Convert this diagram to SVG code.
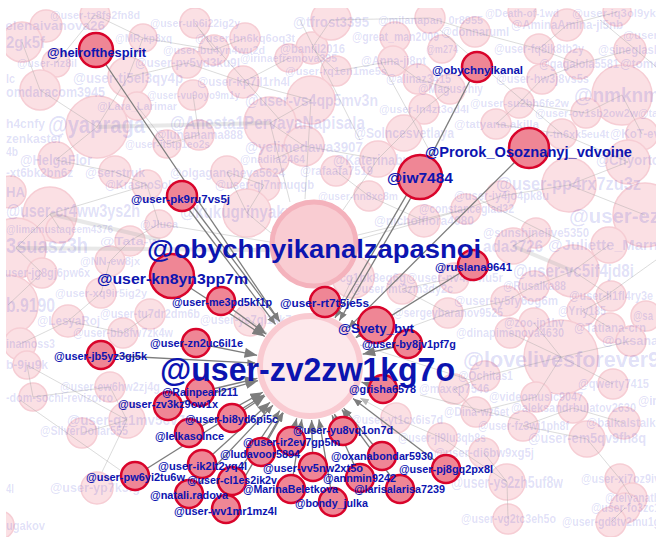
<svg xmlns="http://www.w3.org/2000/svg" width="656" height="537" viewBox="0 0 656 537">
<defs>
<style>
.fe{stroke:#a0a0a0;stroke-opacity:.38;fill:none;stroke-width:1}
.fet{stroke:#b4b4b4;stroke-opacity:.3;fill:none}
.fn{fill:#fbe0e4;stroke:#f6cdd4;stroke-width:1.5}
.fl{font-family:"Liberation Sans",Arial,sans-serif;font-weight:bold;fill:#1a1acc;fill-opacity:.14}
.me{stroke:#7d7d7d;fill:none;stroke-width:1.3}
.rn{fill:#ef8695;stroke:#d9042b;stroke-width:2.5}
.ml{font-family:"Liberation Sans",Arial,sans-serif;font-weight:bold;fill:#0c14b0;text-anchor:middle}
</style>
<clipPath id="clip"><rect x="6" y="8" width="650" height="529"/></clipPath>
<marker id="ah" viewBox="0 0 10 8" refX="10" refY="4" markerWidth="9" markerHeight="7" markerUnits="userSpaceOnUse" orient="auto"><path d="M0,0L10,4L0,8z" fill="#7d7d7d"/></marker>
<marker id="ahb" viewBox="0 0 10 8" refX="10" refY="4" markerWidth="13" markerHeight="10" markerUnits="userSpaceOnUse" orient="auto"><path d="M0,0L10,4L0,8z" fill="#7d7d7d"/></marker>
<marker id="ahf" viewBox="0 0 10 8" refX="10" refY="4" markerWidth="9" markerHeight="7" markerUnits="userSpaceOnUse" orient="auto"><path d="M0,0L10,4L0,8z" fill="#b5b5b5"/></marker>
</defs>
<rect width="656" height="537" fill="#ffffff"/>
<g clip-path="url(#clip)">
<g id="background-nodes">
<circle class="fn" cx="95" cy="15" r="15"/><circle class="fn" cx="46" cy="26" r="16"/><circle class="fn" cx="22" cy="42" r="20"/>
<circle class="fn" cx="143" cy="38" r="14"/><circle class="fn" cx="195" cy="23" r="15"/><circle class="fn" cx="245" cy="38" r="15"/>
<circle class="fn" cx="214" cy="50" r="15"/><circle class="fn" cx="312" cy="48" r="16"/><circle class="fn" cx="56" cy="63" r="14"/>
<circle class="fn" cx="187" cy="63" r="15"/><circle class="fn" cx="289" cy="58" r="14"/><circle class="fn" cx="128" cy="77" r="20"/>
<circle class="fn" cx="243" cy="82" r="16"/><circle class="fn" cx="336" cy="71" r="15"/><circle class="fn" cx="40" cy="90" r="20"/>
<circle class="fn" cx="193" cy="95" r="15"/><circle class="fn" cx="311" cy="100" r="24"/><circle class="fn" cx="137" cy="106" r="14"/>
<circle class="fn" cx="97" cy="127" r="31"/><circle class="fn" cx="270" cy="123" r="26"/><circle class="fn" cx="199" cy="135" r="15"/>
<circle class="fn" cx="167" cy="144" r="14"/><circle class="fn" cx="304" cy="146" r="20"/><circle class="fn" cx="56" cy="160" r="18"/>
<circle class="fn" cx="274" cy="159" r="15"/><circle class="fn" cx="115" cy="172" r="16"/><circle class="fn" cx="227" cy="172" r="16"/>
<circle class="fn" cx="336" cy="171" r="15"/><circle class="fn" cx="378" cy="159" r="18"/><circle class="fn" cx="331" cy="20" r="20"/>
<circle class="fn" cx="430" cy="18" r="15"/><circle class="fn" cx="522" cy="12" r="14"/><circle class="fn" cx="617" cy="12" r="14"/>
<circle class="fn" cx="567" cy="25" r="16"/><circle class="fn" cx="395" cy="37" r="15"/><circle class="fn" cx="475" cy="32" r="15"/>
<circle class="fn" cx="442" cy="49" r="14"/><circle class="fn" cx="539" cy="49" r="15"/><circle class="fn" cx="630" cy="50" r="16"/>
<circle class="fn" cx="393" cy="61" r="15"/><circle class="fn" cx="579" cy="64" r="15"/><circle class="fn" cx="418" cy="79" r="15"/>
<circle class="fn" cx="542" cy="79" r="15"/><circle class="fn" cx="450" cy="89" r="15"/><circle class="fn" cx="622" cy="95" r="30"/>
<circle class="fn" cx="519" cy="103" r="15"/><circle class="fn" cx="424" cy="109" r="15"/><circle class="fn" cx="586" cy="113" r="15"/>
<circle class="fn" cx="496" cy="124" r="15"/><circle class="fn" cx="404" cy="133" r="18"/><circle class="fn" cx="562" cy="134" r="15"/>
<circle class="fn" cx="642" cy="134" r="16"/><circle class="fn" cx="628" cy="162" r="22"/><circle class="fn" cx="10" cy="192" r="16"/>
<circle class="fn" cx="147" cy="185" r="15"/><circle class="fn" cx="264" cy="185" r="16"/><circle class="fn" cx="50" cy="214" r="27"/>
<circle class="fn" cx="247" cy="213" r="24"/><circle class="fn" cx="60" cy="229" r="14"/><circle class="fn" cx="159" cy="224" r="14"/>
<circle class="fn" cx="16" cy="248" r="30"/><circle class="fn" cx="130" cy="241" r="15"/><circle class="fn" cx="110" cy="261" r="15"/>
<circle class="fn" cx="42" cy="273" r="15"/><circle class="fn" cx="101" cy="293" r="15"/><circle class="fn" cx="8" cy="305" r="30"/>
<circle class="fn" cx="150" cy="314" r="15"/><circle class="fn" cx="68" cy="321" r="16"/><circle class="fn" cx="250" cy="320" r="16"/>
<circle class="fn" cx="123" cy="333" r="15"/><circle class="fn" cx="20" cy="344" r="16"/><circle class="fn" cx="569" cy="185" r="27"/>
<circle class="fn" cx="369" cy="196" r="15"/><circle class="fn" cx="501" cy="196" r="15"/><circle class="fn" cx="466" cy="209" r="15"/>
<circle class="fn" cx="424" cy="221" r="16"/><circle class="fn" cx="645" cy="215" r="32"/><circle class="fn" cx="536" cy="233" r="15"/>
<circle class="fn" cx="513" cy="246" r="18"/><circle class="fn" cx="609" cy="245" r="18"/><circle class="fn" cx="353" cy="277" r="21"/>
<circle class="fn" cx="454" cy="278" r="15"/><circle class="fn" cx="573" cy="271" r="26"/><circle class="fn" cx="402" cy="289" r="15"/>
<circle class="fn" cx="534" cy="286" r="15"/><circle class="fn" cx="506" cy="301" r="15"/><circle class="fn" cx="611" cy="296" r="15"/>
<circle class="fn" cx="448" cy="313" r="15"/><circle class="fn" cx="582" cy="311" r="15"/><circle class="fn" cx="534" cy="323" r="15"/>
<circle class="fn" cx="646" cy="316" r="15"/><circle class="fn" cx="510" cy="333" r="15"/><circle class="fn" cx="610" cy="328" r="15"/>
<circle class="fn" cx="631" cy="341" r="15"/><circle class="fn" cx="561" cy="357" r="37"/><circle class="fn" cx="27" cy="365" r="14"/>
<circle class="fn" cx="110" cy="387" r="15"/><circle class="fn" cx="33" cy="397" r="14"/><circle class="fn" cx="127" cy="420" r="18"/>
<circle class="fn" cx="82" cy="433" r="15"/><circle class="fn" cx="97" cy="488" r="16"/><circle class="fn" cx="0" cy="525" r="14"/>
<circle class="fn" cx="485" cy="376" r="15"/><circle class="fn" cx="454" cy="389" r="15"/><circle class="fn" cx="613" cy="384" r="15"/>
<circle class="fn" cx="536" cy="397" r="15"/><circle class="fn" cx="476" cy="412" r="15"/><circle class="fn" cx="573" cy="408" r="15"/>
<circle class="fn" cx="396" cy="418" r="15"/><circle class="fn" cx="624" cy="423" r="16"/><circle class="fn" cx="523" cy="426" r="15"/>
<circle class="fn" cx="442" cy="438" r="15"/><circle class="fn" cx="587" cy="439" r="18"/><circle class="fn" cx="484" cy="453" r="15"/>
<circle class="fn" cx="507" cy="482" r="18"/><circle class="fn" cx="620" cy="479" r="15"/><circle class="fn" cx="632" cy="498" r="15"/>
<circle class="fn" cx="625" cy="508" r="15"/><circle class="fn" cx="508" cy="519" r="15"/><circle class="fn" cx="611" cy="522" r="15"/>
</g>
<g id="background-connectors">
<path class="fet" stroke-width="4" d="M16,248L270,250M50,214L160,240M513,246L573,271M97,127L270,123"/>
<path class="fe" d="M95,15L143,38M143,38L128,77M128,77L97,127M97,127L56,160M97,127L40,90M40,90L22,42M128,77L187,63M187,63L243,82M243,82L311,100M311,100L270,123M270,123L304,146M304,146L378,159M378,159L404,133M404,133L424,109M424,109L450,89M450,89L418,79M418,79L393,61M393,61L336,71M336,71L312,48M312,48L331,20M331,20L430,18M430,18L475,32M475,32L539,49M539,49L567,25M567,25L617,12M539,49L579,64M579,64L630,50M579,64L542,79M542,79L519,103M519,103L586,113M586,113L622,95M622,95L642,134M562,134L628,162M562,134L496,124M496,124L519,103M569,185L628,162M569,185L645,215M569,185L501,196M501,196L466,209M466,209L424,221M536,233L513,246M573,271L609,245M573,271L611,296M611,296L582,311M582,311L610,328M534,323L561,357M510,333L561,357M561,357L631,341M561,357L613,384M561,357L536,397M536,397L476,412M476,412L454,389M454,389L485,376M485,376L561,357M573,408L624,423M573,408L523,426M587,439L523,426M587,439L620,479M507,482L484,453M507,482L508,519M507,482L442,438M442,438L396,418M620,479L632,498M611,522L625,508M56,160L115,172M115,172L147,185M147,185L159,224M159,224L130,241M130,241L110,261M110,261L101,293M101,293L68,321M68,321L20,344M50,214L16,248M50,214L147,185M50,214L60,229M16,248L42,273M42,273L8,305M150,314L123,333M123,333L68,321M110,387L33,397M127,420L110,387M127,420L82,433M127,420L27,365M33,397L27,365M227,172L247,213M247,213L264,185M264,185L227,172M199,135L167,144M167,144L137,106M199,135L193,95M274,159L304,146M336,171L369,196M369,196L424,221M454,278L402,289M402,289L448,313M448,313L506,301M506,301L534,286M534,286L573,271M289,58L243,82M214,50L245,38M195,23L214,50M56,63L95,15M143,38L214,50M440,30L562,134M380,60L440,170M480,200L560,240M600,20L660,70M470,380L360,345M520,420L420,395M600,300L656,260M20,400L120,470M300,20L360,140M200,30L280,120"/>
<path class="fe" marker-end="url(#ahf)" d="M127,420L102,472M311,100L305,199M270,123L290,202M378,159L343,210M424,221L356,240M247,213L271,233M159,224L270,242M466,209L358,235M250,320L267.1,333.1M353,277L333.7,317.5M448,313L362,345M396,418L360,398"/>
</g>
<g id="background-labels">
<text class="fl" x="50" y="19" font-size="11" textLength="90" lengthAdjust="spacingAndGlyphs">@user-tz8fs2fn8d</text>
<text class="fl" x="-8" y="30" font-size="13" textLength="113" lengthAdjust="spacingAndGlyphs">@elenaivanova26</text>
<text class="fl" x="6" y="48" font-size="17" textLength="39" lengthAdjust="spacingAndGlyphs">2gk5f</text>
<text class="fl" x="115" y="42" font-size="11" textLength="57" lengthAdjust="spacingAndGlyphs">@MR-kp8xq</text>
<text class="fl" x="150" y="27" font-size="11" textLength="90" lengthAdjust="spacingAndGlyphs">@user-ub6i22ig2y</text>
<text class="fl" x="195" y="42" font-size="11" textLength="100" lengthAdjust="spacingAndGlyphs">@user-hn6kq6oq3t</text>
<text class="fl" x="163" y="54" font-size="11" textLength="102" lengthAdjust="spacingAndGlyphs">@user-bu4yn4wu2d</text>
<text class="fl" x="280" y="53" font-size="12" textLength="65" lengthAdjust="spacingAndGlyphs">@baniil2016</text>
<text class="fl" x="17" y="67" font-size="11" textLength="60" lengthAdjust="spacingAndGlyphs">@user-nz8il</text>
<text class="fl" x="135" y="67" font-size="12" textLength="105" lengthAdjust="spacingAndGlyphs">@user-pv5vd3ku9l</text>
<text class="fl" x="240" y="62" font-size="11" textLength="97" lengthAdjust="spacingAndGlyphs">@irinaefremova395</text>
<text class="fl" x="73" y="83" font-size="15" textLength="110" lengthAdjust="spacingAndGlyphs">@user-tj5el3qy4p</text>
<text class="fl" x="197" y="86" font-size="12" textLength="93" lengthAdjust="spacingAndGlyphs">@user-kp7il1rh4l</text>
<text class="fl" x="285" y="75" font-size="11" textLength="102" lengthAdjust="spacingAndGlyphs">@user-rq1en1me5s</text>
<text class="fl" x="6" y="83" font-size="12" textLength="9" lengthAdjust="spacingAndGlyphs">lc</text>
<text class="fl" x="6" y="97" font-size="14" textLength="99" lengthAdjust="spacingAndGlyphs">omdaracom3945</text>
<text class="fl" x="147" y="99" font-size="11" textLength="93" lengthAdjust="spacingAndGlyphs">@user-vu9oyo9m1y</text>
<text class="fl" x="245" y="106" font-size="17" textLength="133" lengthAdjust="spacingAndGlyphs">@user-vs4qp5mv3n</text>
<text class="fl" x="97" y="110" font-size="11" textLength="80" lengthAdjust="spacingAndGlyphs">@Lara_Larimar</text>
<text class="fl" x="48" y="133" font-size="23" textLength="97" lengthAdjust="spacingAndGlyphs">@yapraga</text>
<text class="fl" x="6" y="128" font-size="13" textLength="39" lengthAdjust="spacingAndGlyphs">h4cnfy</text>
<text class="fl" x="170" y="129" font-size="19" textLength="195" lengthAdjust="spacingAndGlyphs">@Anesta1PervayaNapisala</text>
<text class="fl" x="6" y="143" font-size="12" textLength="56" lengthAdjust="spacingAndGlyphs">zenkaster</text>
<text class="fl" x="155" y="139" font-size="12" textLength="88" lengthAdjust="spacingAndGlyphs">@lunamama888</text>
<text class="fl" x="125" y="148" font-size="11" textLength="85" lengthAdjust="spacingAndGlyphs">@user-it5tp1eo2s</text>
<text class="fl" x="245" y="152" font-size="15" textLength="118" lengthAdjust="spacingAndGlyphs">@yelimedawa3907</text>
<text class="fl" x="6" y="156" font-size="12" textLength="12" lengthAdjust="spacingAndGlyphs">4b</text>
<text class="fl" x="20" y="165" font-size="14" textLength="72" lengthAdjust="spacingAndGlyphs">@HelgaFlor</text>
<text class="fl" x="240" y="163" font-size="11" textLength="65" lengthAdjust="spacingAndGlyphs">@nadila2464</text>
<text class="fl" x="6" y="177" font-size="12" textLength="67" lengthAdjust="spacingAndGlyphs">-xt6bk2bn6z</text>
<text class="fl" x="85" y="177" font-size="13" textLength="60" lengthAdjust="spacingAndGlyphs">@serstruk</text>
<text class="fl" x="170" y="177" font-size="12" textLength="115" lengthAdjust="spacingAndGlyphs">@olgagancheva5624</text>
<text class="fl" x="300" y="175" font-size="12" textLength="73" lengthAdjust="spacingAndGlyphs">@rafaafa7519</text>
<text class="fl" x="333" y="165" font-size="14" textLength="91" lengthAdjust="spacingAndGlyphs">@Katerinabu46</text>
<text class="fl" x="293" y="27" font-size="15" textLength="76" lengthAdjust="spacingAndGlyphs">@tfrost3395</text>
<text class="fl" x="378" y="24" font-size="11" textLength="105" lengthAdjust="spacingAndGlyphs">@milanapan_0r8955</text>
<text class="fl" x="485" y="17" font-size="11" textLength="74" lengthAdjust="spacingAndGlyphs">@Death-of-1wd</text>
<text class="fl" x="572" y="17" font-size="11" textLength="90" lengthAdjust="spacingAndGlyphs">@user-iq3ol9yk1</text>
<text class="fl" x="511" y="29" font-size="12" textLength="112" lengthAdjust="spacingAndGlyphs">@AminaAmina-ji5nb</text>
<text class="fl" x="352" y="41" font-size="12" textLength="87" lengthAdjust="spacingAndGlyphs">@great_man2009</text>
<text class="fl" x="441" y="36" font-size="12" textLength="68" lengthAdjust="spacingAndGlyphs">@donnaruml</text>
<text class="fl" x="623" y="39" font-size="11" textLength="35" lengthAdjust="spacingAndGlyphs">@user</text>
<text class="fl" x="426" y="53" font-size="11" textLength="32" lengthAdjust="spacingAndGlyphs">@m274</text>
<text class="fl" x="494" y="53" font-size="12" textLength="90" lengthAdjust="spacingAndGlyphs">@user-fq8ik8tb2y</text>
<text class="fl" x="598" y="54" font-size="12" textLength="62" lengthAdjust="spacingAndGlyphs">@sineglask</text>
<text class="fl" x="361" y="65" font-size="12" textLength="65" lengthAdjust="spacingAndGlyphs">@Anna-ji8pt</text>
<text class="fl" x="539" y="68" font-size="12" textLength="80" lengthAdjust="spacingAndGlyphs">@gagalola5581</text>
<text class="fl" x="620" y="68" font-size="12" textLength="40" lengthAdjust="spacingAndGlyphs">@tome</text>
<text class="fl" x="386" y="83" font-size="12" textLength="65" lengthAdjust="spacingAndGlyphs">@alinaz3415</text>
<text class="fl" x="496" y="83" font-size="12" textLength="93" lengthAdjust="spacingAndGlyphs">@user-hw3j8vs5s</text>
<text class="fl" x="418" y="93" font-size="12" textLength="65" lengthAdjust="spacingAndGlyphs">@Maguschiy</text>
<text class="fl" x="574" y="102" font-size="20" textLength="86" lengthAdjust="spacingAndGlyphs">@nmknm</text>
<text class="fl" x="470" y="107" font-size="11" textLength="99" lengthAdjust="spacingAndGlyphs">@user-su2bh6fe2w</text>
<text class="fl" x="379" y="113" font-size="11" textLength="90" lengthAdjust="spacingAndGlyphs">@user-ln4zt3od4l</text>
<text class="fl" x="535" y="117" font-size="11" textLength="103" lengthAdjust="spacingAndGlyphs">@user-ov1sb2ow2w</text>
<text class="fl" x="638" y="117" font-size="11" textLength="20" lengthAdjust="spacingAndGlyphs">@ta</text>
<text class="fl" x="454" y="128" font-size="11" textLength="85" lengthAdjust="spacingAndGlyphs">@tatyana.akilla</text>
<text class="fl" x="354" y="138" font-size="14" textLength="100" lengthAdjust="spacingAndGlyphs">@Solncesvetlaya</text>
<text class="fl" x="516" y="138" font-size="11" textLength="93" lengthAdjust="spacingAndGlyphs">@user-tn6xk5eu4t</text>
<text class="fl" x="610" y="138" font-size="12" textLength="50" lengthAdjust="spacingAndGlyphs">@KoT-ev</text>
<text class="fl" x="596" y="165" font-size="14" textLength="64" lengthAdjust="spacingAndGlyphs">@Chyorto</text>
<text class="fl" x="6" y="197" font-size="14" textLength="19" lengthAdjust="spacingAndGlyphs">HA</text>
<text class="fl" x="105" y="189" font-size="12" textLength="85" lengthAdjust="spacingAndGlyphs">@KrasnoSolnce</text>
<text class="fl" x="215" y="189" font-size="12" textLength="99" lengthAdjust="spacingAndGlyphs">@user-ql7nmuqgb</text>
<text class="fl" x="6" y="217" font-size="18" textLength="134" lengthAdjust="spacingAndGlyphs">@user-cr4ww3ys2h</text>
<text class="fl" x="180" y="218" font-size="18" textLength="132" lengthAdjust="spacingAndGlyphs">@kukugrinyakuku</text>
<text class="fl" x="6" y="233" font-size="11" textLength="107" lengthAdjust="spacingAndGlyphs">@limamustaqeem4376</text>
<text class="fl" x="140" y="228" font-size="11" textLength="38" lengthAdjust="spacingAndGlyphs">@Jluca</text>
<text class="fl" x="6" y="253" font-size="22" textLength="82" lengthAdjust="spacingAndGlyphs">3suasz3h</text>
<text class="fl" x="100" y="245" font-size="11" textLength="60" lengthAdjust="spacingAndGlyphs">@Tata-w</text>
<text class="fl" x="80" y="265" font-size="11" textLength="60" lengthAdjust="spacingAndGlyphs">@NN-ew8jx</text>
<text class="fl" x="-6" y="277" font-size="12" textLength="96" lengthAdjust="spacingAndGlyphs">@user-jg8gj6pw6x</text>
<text class="fl" x="55" y="297" font-size="11" textLength="92" lengthAdjust="spacingAndGlyphs">@user-xq9ir5ig2y</text>
<text class="fl" x="6" y="312" font-size="20" textLength="49" lengthAdjust="spacingAndGlyphs">b.9190</text>
<text class="fl" x="100" y="318" font-size="12" textLength="100" lengthAdjust="spacingAndGlyphs">@user-tu7dr2dm6b</text>
<text class="fl" x="37" y="325" font-size="12" textLength="63" lengthAdjust="spacingAndGlyphs">@LesyaRoj</text>
<text class="fl" x="200" y="324" font-size="12" textLength="100" lengthAdjust="spacingAndGlyphs">@user-ye7gl1kk7w</text>
<text class="fl" x="73" y="337" font-size="12" textLength="100" lengthAdjust="spacingAndGlyphs">@user-bb8fw7zk4w</text>
<text class="fl" x="6" y="348" font-size="12" textLength="49" lengthAdjust="spacingAndGlyphs">inamoss3</text>
<text class="fl" x="496" y="190" font-size="18" textLength="145" lengthAdjust="spacingAndGlyphs">@user-pp4rx7zu3z</text>
<text class="fl" x="318" y="200" font-size="11" textLength="80" lengthAdjust="spacingAndGlyphs">@user-nn8xc8m</text>
<text class="fl" x="454" y="200" font-size="12" textLength="95" lengthAdjust="spacingAndGlyphs">@user-iy4jo4pk8u</text>
<text class="fl" x="419" y="213" font-size="12" textLength="95" lengthAdjust="spacingAndGlyphs">@constanceglad32</text>
<text class="fl" x="374" y="225" font-size="12" textLength="100" lengthAdjust="spacingAndGlyphs">@nicholflora4080</text>
<text class="fl" x="569" y="223" font-size="20" textLength="91" lengthAdjust="spacingAndGlyphs">@user-ez</text>
<text class="fl" x="483" y="237" font-size="12" textLength="106" lengthAdjust="spacingAndGlyphs">@sunshinelive5350</text>
<text class="fl" x="483" y="252" font-size="16" textLength="60" lengthAdjust="spacingAndGlyphs">ada3726</text>
<text class="fl" x="548" y="250" font-size="14" textLength="122" lengthAdjust="spacingAndGlyphs">@Juliette_Marnel</text>
<text class="fl" x="300" y="282" font-size="12" textLength="106" lengthAdjust="spacingAndGlyphs">@user-cg1bk8eg6g</text>
<text class="fl" x="406" y="282" font-size="12" textLength="97" lengthAdjust="spacingAndGlyphs">@user-nv4ik4iu5r</text>
<text class="fl" x="513" y="277" font-size="18" textLength="121" lengthAdjust="spacingAndGlyphs">@user-vc5if4jd8i</text>
<text class="fl" x="351" y="293" font-size="12" textLength="102" lengthAdjust="spacingAndGlyphs">@user-mt3zm3dy2c</text>
<text class="fl" x="503" y="290" font-size="12" textLength="63" lengthAdjust="spacingAndGlyphs">@Rusalka88</text>
<text class="fl" x="454" y="305" font-size="12" textLength="104" lengthAdjust="spacingAndGlyphs">@user-ty5fy6og6m</text>
<text class="fl" x="569" y="300" font-size="12" textLength="84" lengthAdjust="spacingAndGlyphs">@user-li1fl4ry3e</text>
<text class="fl" x="393" y="317" font-size="12" textLength="110" lengthAdjust="spacingAndGlyphs">@sergeybaranov9525</text>
<text class="fl" x="558" y="315" font-size="12" textLength="48" lengthAdjust="spacingAndGlyphs">@Yriy185</text>
<text class="fl" x="504" y="327" font-size="12" textLength="60" lengthAdjust="spacingAndGlyphs">@zoo-jp1hv</text>
<text class="fl" x="633" y="320" font-size="12" textLength="20" lengthAdjust="spacingAndGlyphs">@sa</text>
<text class="fl" x="456" y="337" font-size="12" textLength="108" lengthAdjust="spacingAndGlyphs">@dinapimenova4630</text>
<text class="fl" x="574" y="332" font-size="12" textLength="72" lengthAdjust="spacingAndGlyphs">@Tatiana-crn</text>
<text class="fl" x="602" y="345" font-size="12" textLength="56" lengthAdjust="spacingAndGlyphs">@oksana</text>
<text class="fl" x="463" y="367" font-size="22" textLength="209" lengthAdjust="spacingAndGlyphs">@lovelivesforever99</text>
<text class="fl" x="6" y="369" font-size="12" textLength="42" lengthAdjust="spacingAndGlyphs">b-9ju9k</text>
<text class="fl" x="60" y="391" font-size="12" textLength="100" lengthAdjust="spacingAndGlyphs">@user-ew6hw2zj4g</text>
<text class="fl" x="6" y="402" font-size="12" textLength="107" lengthAdjust="spacingAndGlyphs">-dom-sochi-revizorro</text>
<text class="fl" x="67" y="425" font-size="15" textLength="118" lengthAdjust="spacingAndGlyphs">@user-qz1mv5cv7</text>
<text class="fl" x="40" y="435" font-size="12" textLength="88" lengthAdjust="spacingAndGlyphs">@SilverDollar555</text>
<text class="fl" x="6" y="493" font-size="12" textLength="8" lengthAdjust="spacingAndGlyphs">4l</text>
<text class="fl" x="50" y="492" font-size="13" textLength="90" lengthAdjust="spacingAndGlyphs">@user-yp7k3ig</text>
<text class="fl" x="6" y="530" font-size="12" textLength="39" lengthAdjust="spacingAndGlyphs">ugakov</text>
<text class="fl" x="458" y="380" font-size="12" textLength="55" lengthAdjust="spacingAndGlyphs">@Ochitas1</text>
<text class="fl" x="419" y="393" font-size="12" textLength="70" lengthAdjust="spacingAndGlyphs">@maxep7546</text>
<text class="fl" x="578" y="388" font-size="12" textLength="71" lengthAdjust="spacingAndGlyphs">@qwerty7415</text>
<text class="fl" x="489" y="401" font-size="12" textLength="94" lengthAdjust="spacingAndGlyphs">@videomusic9047</text>
<text class="fl" x="638" y="405" font-size="12" textLength="22" lengthAdjust="spacingAndGlyphs">@iri</text>
<text class="fl" x="444" y="416" font-size="12" textLength="65" lengthAdjust="spacingAndGlyphs">@Dina-wz6et</text>
<text class="fl" x="511" y="412" font-size="12" textLength="125" lengthAdjust="spacingAndGlyphs">@aleksandrbulatov2630</text>
<text class="fl" x="351" y="424" font-size="12" textLength="92" lengthAdjust="spacingAndGlyphs">@user-yt1cx6is7d</text>
<text class="fl" x="586" y="427" font-size="13" textLength="76" lengthAdjust="spacingAndGlyphs">@baikalstalke</text>
<text class="fl" x="478" y="430" font-size="12" textLength="91" lengthAdjust="spacingAndGlyphs">@user-fz3wj1ph8f</text>
<text class="fl" x="398" y="442" font-size="12" textLength="88" lengthAdjust="spacingAndGlyphs">@user-jl9lu3qb8s</text>
<text class="fl" x="528" y="443" font-size="14" textLength="118" lengthAdjust="spacingAndGlyphs">@user-em5qv9fh8q</text>
<text class="fl" x="434" y="457" font-size="12" textLength="100" lengthAdjust="spacingAndGlyphs">@user-di6bw9xg5j</text>
<text class="fl" x="451" y="488" font-size="16" textLength="112" lengthAdjust="spacingAndGlyphs">@user-ys2zh5uf8w</text>
<text class="fl" x="581" y="483" font-size="12" textLength="79" lengthAdjust="spacingAndGlyphs">@user-xi7oz9iv</text>
<text class="fl" x="605" y="502" font-size="12" textLength="55" lengthAdjust="spacingAndGlyphs">@telyanath</text>
<text class="fl" x="591" y="512" font-size="12" textLength="69" lengthAdjust="spacingAndGlyphs">@user-fo3zc1</text>
<text class="fl" x="461" y="523" font-size="12" textLength="95" lengthAdjust="spacingAndGlyphs">@user-vg2tc3eh5o</text>
<text class="fl" x="562" y="526" font-size="12" textLength="98" lengthAdjust="spacingAndGlyphs">@user-gd8tv2mu1g</text>
</g>
</g>
<g id="connectors">
<path class="me" marker-end="url(#ah)" d="M96,50L279.7,321.3"/>
<path class="me" marker-end="url(#ah)" d="M184,194.5L279.5,321.4"/>
<path class="me" marker-end="url(#ah)" d="M180,197.5L275.5,324.4"/>
<path class="me" marker-end="url(#ahb)" stroke-width="3" d="M172,276L264.8,336.5"/>
<path class="me" marker-end="url(#ahb)" stroke-width="2" d="M221,301L266.4,334.2"/>
<path class="me" marker-end="url(#ahb)" stroke-width="2.5" d="M196,343L257.1,355.3"/>
<path class="me" marker-end="url(#ah)" d="M101,355L256.1,363.2"/>
<path class="me" marker-end="url(#ah)" d="M325,302L322.3,313.4"/>
<path class="me" marker-end="url(#ah)" d="M422.2,178.3L339.4,320.6"/>
<path class="me" marker-end="url(#ah)" d="M417.8,175.7L335,318"/>
<path class="me" d="M477,67L430.6,156.6"/>
<path class="me" marker-end="url(#ah)" d="M529,148L348.3,327.9"/>
<path class="me" marker-end="url(#ah)" d="M473,265L355.9,337.6"/>
<path class="me" marker-end="url(#ahb)" stroke-width="2" d="M376,325L355.9,337.5"/>
<path class="me" marker-end="url(#ahb)" stroke-width="2" d="M408,344L362.7,354.2"/>
<path class="me" marker-end="url(#ahb)" stroke-width="2" d="M383,389L361.5,382.2"/>
<path class="me" marker-end="url(#ah)" d="M446,469L353,398.6"/>
<path class="me" marker-end="url(#ah)" d="M400,489L341.9,409.6"/>
<path class="me" marker-end="url(#ah)" d="M382,456L343.7,408.2"/>
<path class="me" marker-end="url(#ah)" d="M360,478L332,415.3"/>
<path class="me" marker-end="url(#ah)" d="M333,502L319,419.3"/>
<path class="me" marker-end="url(#ah)" stroke-width="1.6" d="M343,431L334.4,414.1"/>
<path class="me" marker-end="url(#ahb)" stroke-width="2" d="M313,467L311.6,420"/>
<path class="me" marker-end="url(#ah)" d="M291,489L301.8,419.4"/>
<path class="me" marker-end="url(#ah)" stroke-width="1.6" d="M291,441L296.7,418.3"/>
<path class="me" marker-end="url(#ah)" stroke-width="1.6" d="M261,452L283.3,412.9"/>
<path class="me" marker-end="url(#ah)" d="M232,481L279.7,410.7"/>
<path class="me" marker-end="url(#ah)" d="M226,509L282.6,412.6"/>
<path class="me" marker-end="url(#ah)" d="M189,494L272.9,405.2"/>
<path class="me" marker-end="url(#ahb)" stroke-width="2" d="M202,464L270,402.3"/>
<path class="me" marker-end="url(#ah)" d="M135,476L264.3,394.7"/>
<path class="me" marker-end="url(#ahb)" stroke-width="2" d="M189,433L262.8,392.2"/>
<path class="me" marker-end="url(#ahb)" stroke-width="2.5" d="M232,418L265,396"/>
<path class="me" marker-end="url(#ahb)" stroke-width="2" d="M168,406L258,380.6"/>
<path class="me" marker-end="url(#ahb)" stroke-width="2" d="M200,392L257.4,378.4"/>
</g>
<g id="node-obychnyikanalzapasnoi"><circle cx="314" cy="244" r="42" fill="#f9ccd2" stroke="#f4b2bc" stroke-width="5"/></g>
<g id="node-user-zv2zw1kg7o"><circle cx="310" cy="366" r="50" fill="#fde8eb" stroke="#f9cad1" stroke-width="6"/></g>
<g id="node-heirofthespirit"><circle class="rn" cx="96" cy="50" r="17"/></g>
<g id="node-obychnyikanal"><circle class="rn" cx="477" cy="67" r="15"/></g>
<g id="node-Prorok_Osoznanyj_vdvoine"><circle class="rn" cx="529" cy="148" r="20"/></g>
<g id="node-iw7484"><circle class="rn" cx="420" cy="177" r="22"/></g>
<g id="node-user-pk9ru7vs5j"><circle class="rn" cx="182" cy="196" r="15"/></g>
<g id="node-user-kn8yn3pp7m"><circle class="rn" cx="172" cy="276" r="22"/></g>
<g id="node-user-me3pd5kf1p"><circle class="rn" cx="221" cy="301" r="14"/></g>
<g id="node-user-rt7t5je5s"><circle class="rn" cx="325" cy="302" r="15"/></g>
<g id="node-ruslana9641"><circle class="rn" cx="473" cy="265" r="15"/></g>
<g id="node-Svety_byt"><circle class="rn" cx="376" cy="325" r="18"/></g>
<g id="node-user-by8jv1pf7g"><circle class="rn" cx="408" cy="344" r="14"/></g>
<g id="node-user-zn2uc6il1e"><circle class="rn" cx="196" cy="343" r="14"/></g>
<g id="node-user-jb5yz3gj5k"><circle class="rn" cx="101" cy="355" r="14"/></g>
<g id="node-grisha6578"><circle class="rn" cx="383" cy="389" r="14"/></g>
<g id="node-Rainpearl211"><circle class="rn" cx="200" cy="392" r="14"/></g>
<g id="node-user-zv3kz9ow1x"><circle class="rn" cx="168" cy="406" r="14"/></g>
<g id="node-user-bi8yd6pi5c"><circle class="rn" cx="232" cy="418" r="14"/></g>
<g id="node-lelkasolnce"><circle class="rn" cx="189" cy="433" r="14"/></g>
<g id="node-user-ir2ev7gp5m"><circle class="rn" cx="291" cy="441" r="14"/></g>
<g id="node-ludavoor5894"><circle class="rn" cx="261" cy="452" r="14"/></g>
<g id="node-user-ik2lt2yq4l"><circle class="rn" cx="202" cy="464" r="14"/></g>
<g id="node-user-pw6yi2tu6w"><circle class="rn" cx="135" cy="476" r="14"/></g>
<g id="node-user-cl1es2ik2v"><circle class="rn" cx="232" cy="481" r="14"/></g>
<g id="node-natali.radova"><circle class="rn" cx="189" cy="494" r="14"/></g>
<g id="node-user-wv1mr1mz4l"><circle class="rn" cx="226" cy="509" r="14"/></g>
<g id="node-user-vv5nw2xt5o"><circle class="rn" cx="313" cy="467" r="14"/></g>
<g id="node-MarinaBeletkova"><circle class="rn" cx="291" cy="489" r="14"/></g>
<g id="node-bondy_julka"><circle class="rn" cx="333" cy="502" r="14"/></g>
<g id="node-user-yu8vq1on7d"><circle class="rn" cx="343" cy="431" r="14"/></g>
<g id="node-oxanabondar5930"><circle class="rn" cx="382" cy="456" r="14"/></g>
<g id="node-annmin9242"><circle class="rn" cx="360" cy="478" r="14"/></g>
<g id="node-larisalarisa7239"><circle class="rn" cx="400" cy="489" r="14"/></g>
<g id="node-user-pj8gq2px8l"><circle class="rn" cx="446" cy="469" r="14"/></g>
<g id="labels">
<text class="ml" x="314" y="258" font-size="26" textLength="334" lengthAdjust="spacingAndGlyphs">@obychnyikanalzapasnoi</text>
<text class="ml" x="307.5" y="381" font-size="33" textLength="295" lengthAdjust="spacingAndGlyphs">@user-zv2zw1kg7o</text>
<text class="ml" x="96.5" y="57" font-size="13" textLength="99" lengthAdjust="spacingAndGlyphs">@heirofthespirit</text>
<text class="ml" x="477.5" y="74" font-size="11.5" textLength="91" lengthAdjust="spacingAndGlyphs">@obychnyikanal</text>
<text class="ml" x="528.5" y="157" font-size="14.5" textLength="207" lengthAdjust="spacingAndGlyphs">@Prorok_Osoznanyj_vdvoine</text>
<text class="ml" x="420" y="183" font-size="15.5" textLength="66" lengthAdjust="spacingAndGlyphs">@iw7484</text>
<text class="ml" x="180.5" y="203" font-size="11.5" textLength="99" lengthAdjust="spacingAndGlyphs">@user-pk9ru7vs5j</text>
<text class="ml" x="172.5" y="284" font-size="15.5" textLength="151" lengthAdjust="spacingAndGlyphs">@user-kn8yn3pp7m</text>
<text class="ml" x="222" y="306" font-size="11.5" textLength="100" lengthAdjust="spacingAndGlyphs">@user-me3pd5kf1p</text>
<text class="ml" x="324.5" y="307" font-size="11.5" textLength="89" lengthAdjust="spacingAndGlyphs">@user-rt7t5je5s</text>
<text class="ml" x="473.5" y="271" font-size="11.5" textLength="77" lengthAdjust="spacingAndGlyphs">@ruslana9641</text>
<text class="ml" x="376" y="333" font-size="13.5" textLength="76" lengthAdjust="spacingAndGlyphs">@Svety_byt</text>
<text class="ml" x="409" y="348" font-size="11.5" textLength="94" lengthAdjust="spacingAndGlyphs">@user-by8jv1pf7g</text>
<text class="ml" x="196.5" y="347" font-size="11.5" textLength="93" lengthAdjust="spacingAndGlyphs">@user-zn2uc6il1e</text>
<text class="ml" x="100.5" y="360" font-size="11.5" textLength="93" lengthAdjust="spacingAndGlyphs">@user-jb5yz3gj5k</text>
<text class="ml" x="382.5" y="393" font-size="11.5" textLength="67" lengthAdjust="spacingAndGlyphs">@grisha6578</text>
<text class="ml" x="200" y="396" font-size="11.5" textLength="76" lengthAdjust="spacingAndGlyphs">@Rainpearl211</text>
<text class="ml" x="168" y="408" font-size="11.5" textLength="100" lengthAdjust="spacingAndGlyphs">@user-zv3kz9ow1x</text>
<text class="ml" x="231.5" y="423" font-size="11.5" textLength="93" lengthAdjust="spacingAndGlyphs">@user-bi8yd6pi5c</text>
<text class="ml" x="189.5" y="440" font-size="11.5" textLength="69" lengthAdjust="spacingAndGlyphs">@lelkasolnce</text>
<text class="ml" x="291.5" y="446" font-size="11.5" textLength="97" lengthAdjust="spacingAndGlyphs">@user-ir2ev7gp5m</text>
<text class="ml" x="260" y="458" font-size="11.5" textLength="80" lengthAdjust="spacingAndGlyphs">@ludavoor5894</text>
<text class="ml" x="202.5" y="470" font-size="11.5" textLength="89" lengthAdjust="spacingAndGlyphs">@user-ik2lt2yq4l</text>
<text class="ml" x="135.5" y="481" font-size="11.5" textLength="99" lengthAdjust="spacingAndGlyphs">@user-pw6yi2tu6w</text>
<text class="ml" x="232" y="484" font-size="11.5" textLength="90" lengthAdjust="spacingAndGlyphs">@user-cl1es2ik2v</text>
<text class="ml" x="189" y="499" font-size="11.5" textLength="78" lengthAdjust="spacingAndGlyphs">@natali.radova</text>
<text class="ml" x="225.5" y="515" font-size="11.5" textLength="103" lengthAdjust="spacingAndGlyphs">@user-wv1mr1mz4l</text>
<text class="ml" x="313" y="472" font-size="11.5" textLength="100" lengthAdjust="spacingAndGlyphs">@user-vv5nw2xt5o</text>
<text class="ml" x="290.5" y="493" font-size="11.5" textLength="95" lengthAdjust="spacingAndGlyphs">@MarinaBeletkova</text>
<text class="ml" x="331.5" y="507" font-size="11.5" textLength="73" lengthAdjust="spacingAndGlyphs">@bondy_julka</text>
<text class="ml" x="343" y="434" font-size="11.5" textLength="100" lengthAdjust="spacingAndGlyphs">@user-yu8vq1on7d</text>
<text class="ml" x="382" y="460" font-size="11.5" textLength="102" lengthAdjust="spacingAndGlyphs">@oxanabondar5930</text>
<text class="ml" x="359.5" y="482" font-size="11.5" textLength="73" lengthAdjust="spacingAndGlyphs">@annmin9242</text>
<text class="ml" x="399.5" y="493" font-size="11.5" textLength="91" lengthAdjust="spacingAndGlyphs">@larisalarisa7239</text>
<text class="ml" x="446" y="473" font-size="11.5" textLength="94" lengthAdjust="spacingAndGlyphs">@user-pj8gq2px8l</text>
</g>
</svg>
